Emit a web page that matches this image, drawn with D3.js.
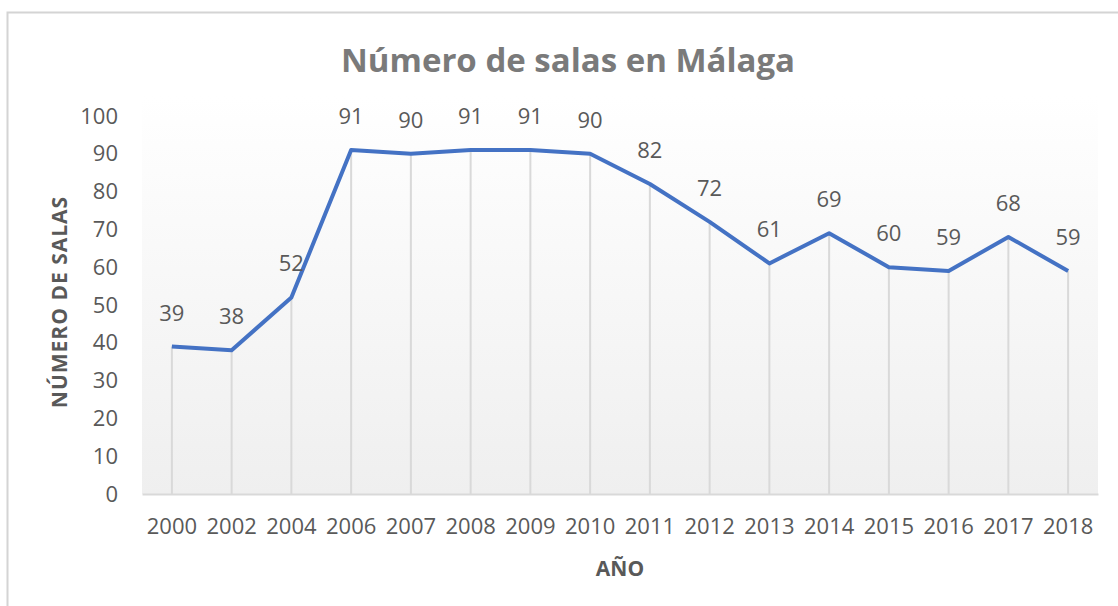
<!DOCTYPE html>
<html><head><meta charset="utf-8">
<script src="https://cdn.jsdelivr.net/npm/d3@7"></script>
<style>body{margin:0;background:#fff}svg{display:block}</style>
</head><body>
<script>
const years = ["2000","2002","2004","2006","2007","2008","2009","2010","2011","2012","2013","2014","2015","2016","2017","2018"];
const salas = [39,38,52,91,90,91,91,90,82,72,61,69,60,59,68,59];
const yTicks = [0,10,20,30,40,50,60,70,80,90,100];

const W = 1118, H = 606;
const svg = d3.select("body").append("svg").attr("width", W).attr("height", H);
const font = "'Open Sans', sans-serif";

// frame
svg.append("rect").attr("x", 7.5).attr("y", 12.5).attr("width", W + 10).attr("height", H + 10)
  .attr("fill", "#fff").attr("stroke", "#d4d4d4").attr("stroke-width", 2);

const pLeft = 142, pRight = 1098, pTop = 116, pBottom = 494;
const x = d3.scaleBand().domain(years).range([pLeft, pRight]).padding(0);
const y = d3.scaleLinear().domain([0, 100]).range([pBottom, pTop]);

// plot background gradient
const defs = svg.append("defs");
const g = defs.append("linearGradient").attr("id", "bg").attr("x1", 0).attr("y1", 0).attr("x2", 0).attr("y2", 1);
g.append("stop").attr("offset", "0%").attr("stop-color", "#ffffff");
g.append("stop").attr("offset", "100%").attr("stop-color", "#efefef");
svg.append("rect").attr("x", pLeft).attr("y", pTop - 20).attr("width", pRight - pLeft).attr("height", pBottom - pTop + 20)
  .attr("fill", "url(#bg)");

// title
svg.append("text").attr("x", 568).attr("y", 72).attr("text-anchor", "middle")
  .attr("font-family", font).attr("font-weight", "bold").attr("font-size", 33).attr("fill", "#7a7a7a")
  .text("Número de salas en Málaga");

// drop lines
svg.append("g").selectAll("line").data(years).join("line")
  .attr("x1", (d) => x(d) + x.bandwidth() / 2).attr("x2", (d) => x(d) + x.bandwidth() / 2)
  .attr("y1", (d, i) => y(salas[i])).attr("y2", y(0))
  .attr("stroke", "#d9d9d9").attr("stroke-width", 2);

// x axis
const xAxis = svg.append("g").attr("transform", `translate(0,${pBottom})`)
  .call(d3.axisBottom(x).tickSize(0).tickPadding(24));
xAxis.select(".domain").attr("stroke", "#d9d9d9").attr("stroke-width", 2);
xAxis.selectAll("text").attr("font-family", font).attr("font-size", 22).attr("fill", "#595959");

// y axis
const yAxis = svg.append("g").attr("transform", `translate(${pLeft},0)`)
  .call(d3.axisLeft(y).tickValues(yTicks).tickSize(0).tickPadding(24));
yAxis.select(".domain").remove();
yAxis.selectAll("text").attr("font-family", font).attr("font-size", 22).attr("fill", "#595959");

// line
const line = d3.line().x((d, i) => x(years[i]) + x.bandwidth() / 2).y((d) => y(d));
svg.append("path").datum(salas).attr("d", line).attr("fill", "none")
  .attr("stroke", "#4472c4").attr("stroke-width", 4).attr("stroke-linejoin", "round");

// data labels
svg.append("g").selectAll("text").data(salas).join("text")
  .attr("x", (d, i) => x(years[i]) + x.bandwidth() / 2)
  .attr("y", (d) => y(d) - 26)
  .attr("text-anchor", "middle").attr("font-family", font).attr("font-size", 22).attr("fill", "#595959")
  .text((d) => d);

// axis titles
svg.append("text").attr("transform", `translate(67,302) rotate(-90)`).attr("text-anchor", "middle")
  .attr("font-family", font).attr("font-weight", "bold").attr("font-size", 21).attr("letter-spacing", 1).attr("fill", "#595959")
  .text("NÚMERO DE SALAS");
svg.append("text").attr("x", 620).attr("y", 576).attr("text-anchor", "middle")
  .attr("font-family", font).attr("font-weight", "bold").attr("font-size", 21).attr("fill", "#595959")
  .text("AÑO");
</script>
</body></html>
